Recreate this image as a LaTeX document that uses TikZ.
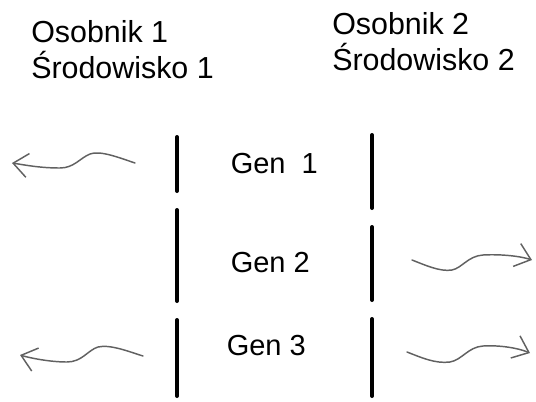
\documentclass[tikz,border=0pt]{standalone}
\usepackage{fontspec}
\setmainfont{Liberation Sans}
\usetikzlibrary{arrows.meta}
\tikzset{
    header/.style={anchor=base west, inner sep=0pt, font=\fontsize{22.8}{27}\selectfont},
    genlabel/.style={anchor=base west, inner sep=0pt, font=\fontsize{21.75}{26}\selectfont},
    barline/.style={line width=3pt, line cap=round, black},
    drift/.style={
        draw=black!62, line width=1.1pt, line cap=round,
        -{Straight Barb[length=11pt, width=18pt, line width=1.1pt]}
    }
}

\begin{document}
\begin{tikzpicture}[x=0.75pt, y=-0.75pt]

\useasboundingbox (0,0) rectangle (536,401);

% ===============================================================
% ==== Osobniki / Srodowiska ====
% ===============================================================
\node[header] (osob1) at (31,42) {Osobnik 1};
\node[header] (srod1) at (31,78) {Środowisko 1};

\node[header] (osob2) at (332,34) {Osobnik 2};
\node[header] (srod2) at (332,70) {Środowisko 2};

% ===============================================================
% ==== Geny ====
% ===============================================================
\node[genlabel] (gen1) at (230.5,173) {Gen\ \ 1};
\node[genlabel] (gen2) at (230.5,272) {Gen 2};
\node[genlabel] (gen3) at (226.5,355) {Gen 3};

% kreski po obu stronach
\foreach \bx/\ya/\yb in {177/137/191, 177/210/301, 177/320/396,
                         372/135/208, 372/227/300, 372/319/396}
    \draw[barline] (\bx,\ya) -- (\bx,\yb);

% ===============================================================
% ==== Strzalki ====
% ===============================================================
\coordinate (l1s) at (135,163);
\coordinate (l1e) at (12,163);
\coordinate (l3s) at (143,356);
\coordinate (l3e) at (20,355);
\coordinate (r2s) at (412,260);
\coordinate (r2e) at (532,260);
\coordinate (r3s) at (407,352);
\coordinate (r3e) at (530,353);

% gen 1 -> w lewo
\draw[drift] (l1s) .. controls (120,158) and (100,150) .. (90,154)
    .. controls (80,158) and (74,168) .. (60,168)
    .. controls (40,168) and (25,165) .. (l1e);

% gen 2 -> w prawo
\draw[drift] (r2s) .. controls (425,265) and (440,272) .. (452,270)
    .. controls (462,268) and (468,256) .. (483,255)
    .. controls (500,254) and (520,256) .. (r2e);

% gen 3 -> w lewo
\draw[drift] (l3s) .. controls (130,352) and (110,344) .. (98,347)
    .. controls (88,350) and (82,362) .. (67,362)
    .. controls (50,362) and (30,358) .. (l3e);

% gen 3 -> w prawo
\draw[drift] (r3s) .. controls (420,357) and (435,364) .. (450,362)
    .. controls (462,360) and (468,347) .. (483,346)
    .. controls (500,345) and (518,348) .. (r3e);

\end{tikzpicture}
\end{document}
